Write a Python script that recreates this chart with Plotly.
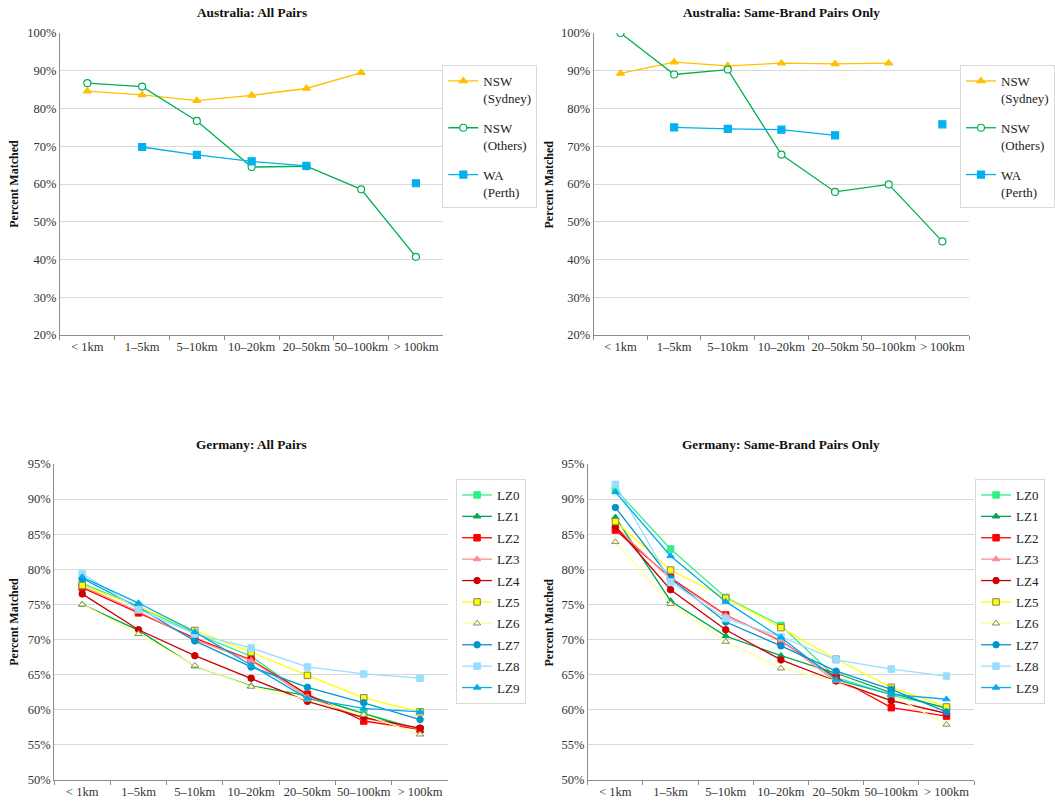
import plotly.graph_objects as go

categories = ["< 1km", "1\u20135km", "5\u201310km", "10\u201320km", "20\u201350km", "50\u2013100km", "> 100km"]

# Australia: All Pairs
au_all_sydney = [84.6, 83.6, 82.1, 83.5, 85.3, 89.5, None]
au_all_others = [86.7, 85.8, 76.7, 64.5, 64.7, 58.6, 40.7]
au_all_wa = [None, 69.8, 67.7, 66.0, 64.8, None, 60.2]

# Australia: Same-Brand Pairs Only
au_sb_sydney = [89.3, 92.3, 91.3, 92.0, 91.8, 92.0, None]
au_sb_others = [100.0, 89.0, 90.3, 67.8, 57.9, 59.9, 44.8]
au_sb_wa = [None, 75.0, 74.6, 74.4, 72.9, None, 75.8]

# Germany: All Pairs
de_all = {
    "LZ0": [78.0, 74.7, 70.9, 67.6, 62.0, 59.5, 57.2],
    "LZ1": [75.0, 71.3, 66.2, 63.4, 62.0, 59.4, 57.1],
    "LZ2": [77.4, 73.8, 70.2, 67.1, 62.2, 58.4, 57.2],
    "LZ3": [77.6, 74.0, 70.0, 67.0, 61.8, 58.8, 57.3],
    "LZ4": [76.5, 71.4, 67.7, 64.5, 61.2, 58.9, 57.4],
    "LZ5": [77.7, 74.7, 71.3, 68.2, 64.9, 61.7, 59.7],
    "LZ6": [75.0, 70.8, 66.3, 63.3, 61.4, 59.3, 56.5],
    "LZ7": [78.7, 74.6, 69.8, 66.1, 63.2, 61.0, 58.6],
    "LZ8": [79.4, 74.3, 70.8, 68.8, 66.1, 65.1, 64.5],
    "LZ9": [78.9, 75.2, 71.1, 66.3, 61.6, 60.2, 59.7],
}

# Germany: Same-Brand Pairs Only
de_sb = {
    "LZ0": [91.4, 82.9, 76.0, 72.0, 64.6, 62.1, 60.3],
    "LZ1": [87.4, 75.5, 70.5, 67.7, 65.2, 62.4, 60.2],
    "LZ2": [85.6, 78.8, 73.5, 69.8, 64.6, 60.3, 59.1],
    "LZ3": [86.1, 78.6, 73.4, 69.9, 64.0, 61.3, 59.5],
    "LZ4": [86.1, 77.1, 71.4, 67.1, 64.1, 61.3, 59.5],
    "LZ5": [86.8, 79.9, 75.9, 71.7, 67.2, 63.2, 60.4],
    "LZ6": [83.9, 75.1, 69.7, 65.9, 64.1, 62.1, 57.9],
    "LZ7": [88.8, 78.7, 72.5, 69.1, 65.5, 62.9, 59.7],
    "LZ8": [92.1, 78.2, 73.0, 70.4, 67.1, 65.8, 64.8],
    "LZ9": [91.0, 81.9, 75.4, 70.3, 64.3, 62.2, 61.5],
}

W, H = 1055, 804
FONT = "Liberation Serif, Times New Roman, serif"

lz_style = {
    "LZ0": dict(line="#2EF08A", symbol="square", fill="#2EF08A", edge="#2EF08A"),
    "LZ1": dict(line="#00A850", symbol="triangle-up", fill="#00A850", edge="#00A850"),
    "LZ2": dict(line="#FF0000", symbol="square", fill="#FF0000", edge="#FF0000"),
    "LZ3": dict(line="#FF8C8C", symbol="triangle-up", fill="#FF8C8C", edge="#FF8C8C"),
    "LZ4": dict(line="#CC0000", symbol="circle", fill="#CC0000", edge="#CC0000"),
    "LZ5": dict(line="#FFFF00", symbol="square", fill="#FFFF00", edge="#808060"),
    "LZ6": dict(line="#FFFF99", symbol="triangle-up", fill="#FFFFCC", edge="#8C8C6A"),
    "LZ7": dict(line="#0096CC", symbol="circle", fill="#0096CC", edge="#0096CC"),
    "LZ8": dict(line="#99DDFF", symbol="square", fill="#99DDFF", edge="#99DDFF"),
    "LZ9": dict(line="#00ACEB", symbol="triangle-up", fill="#00ACEB", edge="#00ACEB"),
}

au_style = [
    ("NSW<br>(Sydney)", "#FFC000", "triangle-up", "#FFC000", "#FFC000"),
    ("NSW<br>(Others)", "#00B050", "circle", "#FFFFFF", "#00B050"),
    ("WA<br>(Perth)", "#00B0F0", "square", "#00B0F0", "#00B0F0"),
]

# panel pixel boxes: (x0, x1, ytop, ybottom)
panels = [
    (61, 451, 33, 335),
    (604, 986, 33, 335),
    (55, 456, 464, 780),
    (598, 991, 464, 780),
]

fig = go.Figure()

def px_x(v):
    return v / W

def px_y(v):
    return 1 - v / H

axis_names = [("xaxis", "yaxis", "x", "y"), ("xaxis2", "yaxis2", "x2", "y2"),
              ("xaxis3", "yaxis3", "x3", "y3"), ("xaxis4", "yaxis4", "x4", "y4")]
legend_names = ["legend", "legend2", "legend3", "legend4"]

# Australia traces
for pi, data in enumerate([(au_all_sydney, au_all_others, au_all_wa),
                           (au_sb_sydney, au_sb_others, au_sb_wa)]):
    xa, ya = axis_names[pi][2], axis_names[pi][3]
    for (name, lc, sym, fc, ec), vals in zip(au_style, data):
        fig.add_trace(go.Scatter(
            x=categories, y=vals, mode="lines+markers", name=name,
            xaxis=xa, yaxis=ya, legend=legend_names[pi], legendgroup=name + str(pi),
            connectgaps=False,
            line=dict(color=lc, width=1.3),
            marker=dict(symbol=sym, size=7, color=fc, line=dict(color=ec, width=1.2)),
        ))

# Germany traces
for pi, data in [(2, de_all), (3, de_sb)]:
    xa, ya = axis_names[pi][2], axis_names[pi][3]
    for name, vals in data.items():
        s = lz_style[name]
        fig.add_trace(go.Scatter(
            x=categories, y=vals, mode="lines+markers", name=name,
            xaxis=xa, yaxis=ya, legend=legend_names[pi], legendgroup=name + str(pi),
            line=dict(color=s["line"], width=1.3),
            marker=dict(symbol=s["symbol"], size=6.5, color=s["fill"],
                        line=dict(color=s["edge"], width=1)),
        ))

layout = dict(
    width=W, height=H, margin=dict(l=0, r=0, t=0, b=0),
    paper_bgcolor="white", plot_bgcolor="white",
    font=dict(family=FONT, size=12, color="#333333"),
)

yranges = [(20, 100, 10), (20, 100, 10), (50, 95, 5), (50, 95, 5)]
for pi, (x0, x1, yt, yb) in enumerate(panels):
    xn, yn, xa, ya = axis_names[pi]
    lo, hi, dt = yranges[pi]
    layout[xn] = dict(
        domain=[px_x(x0), px_x(x1)], anchor=ya, type="category",
        categoryorder="array", categoryarray=categories,
        range=[-0.5, 6.5], showline=True, linecolor="#8C8C8C", linewidth=1,
        ticks="outside", tickson="boundaries", ticklen=4, tickcolor="#8C8C8C",
        tickangle=0, automargin=False,
        showgrid=False, tickfont=dict(family=FONT, size=12.5, color="#333333"),
    )
    layout[yn] = dict(
        domain=[px_y(yb), px_y(yt)], anchor=xa, range=[lo, hi], dtick=dt,
        tick0=lo, ticksuffix="%", showline=True, linecolor="#8C8C8C", linewidth=1,
        showgrid=True, gridcolor="#D9D9D9", gridwidth=1, zeroline=False,
        ticks="", automargin=False,
        tickfont=dict(family=FONT, size=12.5, color="#333333"),
    )

# legends
leg_common = dict(
    bgcolor="white", bordercolor="#D9D9D9", borderwidth=1,
    font=dict(family=FONT, size=13, color="#222222"),
    xanchor="left", yanchor="top", itemwidth=30, traceorder="grouped",
)
layout["legend"] = dict(leg_common, x=px_x(450), y=px_y(65), valign="top", tracegroupgap=10)
layout["legend2"] = dict(leg_common, x=px_x(977), y=px_y(65), valign="top", tracegroupgap=10)
layout["legend3"] = dict(leg_common, x=px_x(464), y=px_y(479), tracegroupgap=1.5)
layout["legend4"] = dict(leg_common, x=px_x(992), y=px_y(479), tracegroupgap=1.5)

titles = [
    ("Australia: All Pairs", 256, 13),
    ("Australia: Same-Brand Pairs Only", 795, 13),
    ("Germany: All Pairs", 256, 445),
    ("Germany: Same-Brand Pairs Only", 795, 445),
]
annotations = []
for t, cx, cy in titles:
    annotations.append(dict(text="<b>" + t + "</b>", x=px_x(cx), y=px_y(cy),
                            xref="paper", yref="paper", showarrow=False,
                            xanchor="center", yanchor="middle",
                            font=dict(family=FONT, size=13.3, color="#111111")))
for cx, cy in [(14, 184), (559, 184), (14, 622), (559, 622)]:
    annotations.append(dict(text="<b>Percent Matched</b>", x=px_x(cx), y=px_y(cy),
                            xref="paper", yref="paper", showarrow=False,
                            textangle=-90, xanchor="center", yanchor="middle",
                            font=dict(family=FONT, size=12, color="#111111")))
layout["annotations"] = annotations

fig.update_layout(**layout)
fig.write_html("out.html")
